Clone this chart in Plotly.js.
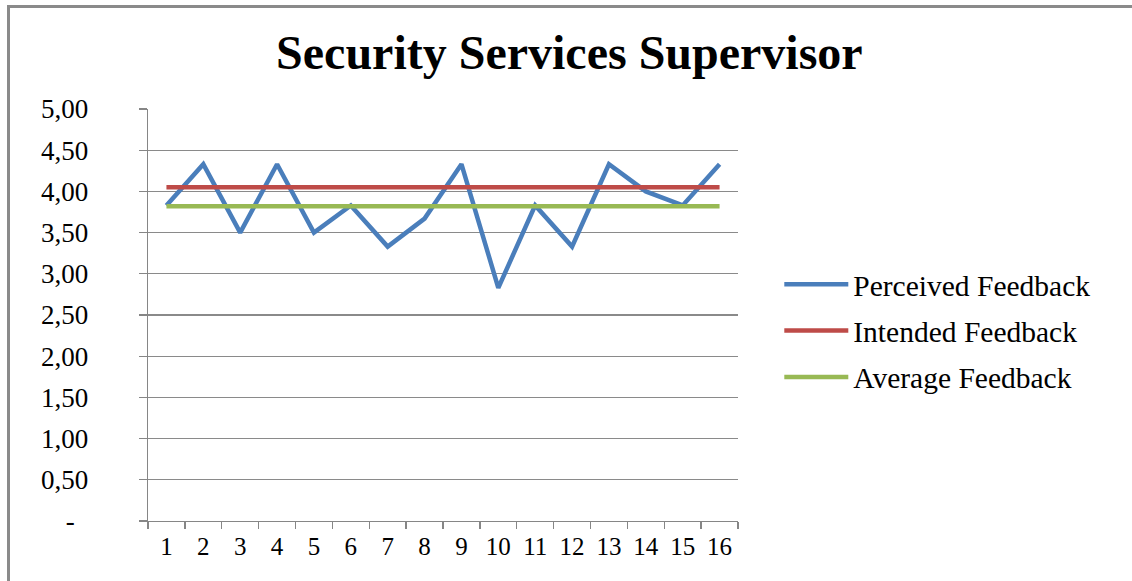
<!DOCTYPE html>
<html>
<head>
<meta charset="utf-8">
<script src="https://cdn.plot.ly/plotly-3.0.1.min.js"></script>
<style>
  html, body { margin: 0; padding: 0; background: #fff; }
  #wrap { position: relative; width: 1132px; height: 581px; overflow: hidden; }
  #chart { position: absolute; left: 0; top: 0; width: 1132px; height: 581px; }
  #frame { position: absolute; left: 7px; top: 5px; right: -10px; bottom: -10px;
           border-left: 3px solid #8a8a8a; border-top: 3px solid #8a8a8a; pointer-events: none; }
</style>
</head>
<body>
<div id="wrap">
  <div id="chart"></div>
  <div id="frame"></div>
</div>
<script>
const categories = ["1","2","3","4","5","6","7","8","9","10","11","12","13","14","15","16"];
const perceived = [3.83, 4.33, 3.50, 4.33, 3.50, 3.83, 3.33, 3.67, 4.33, 2.83, 3.83, 3.33, 4.33, 4.00, 3.83, 4.33];
const intendedValue = 4.05;
const averageValue = 3.82;
const intended = categories.map(() => intendedValue);
const average = categories.map(() => averageValue);
const yTickVals = [0, 0.5, 1, 1.5, 2, 2.5, 3, 3.5, 4, 4.5, 5];
const yTickText = ["-\u00a0\u00a0", "0,50", "1,00", "1,50", "2,00", "2,50", "3,00", "3,50", "4,00", "4,50", "5,00"];

const serif = "Liberation Serif, Times New Roman, serif";

const traces = [
  { x: categories, y: perceived, type: "scatter", mode: "lines", name: "Perceived Feedback",
    line: { color: "#4A7EBB", width: 4.5 }, legendgroup: "a" },
  { x: categories, y: intended, type: "scatter", mode: "lines", name: "Intended Feedback",
    line: { color: "#BE4B48", width: 4.5 }, legendgroup: "b" },
  { x: categories, y: average, type: "scatter", mode: "lines", name: "Average Feedback",
    line: { color: "#98B954", width: 4.5 }, legendgroup: "c" }
];

const layout = {
  width: 1132, height: 581,
  margin: { l: 148, r: 394, t: 109, b: 60 },
  paper_bgcolor: "#ffffff", plot_bgcolor: "#ffffff",
  font: { family: serif, color: "#000000", size: 24 },
  title: { text: "<b>Security Services Supervisor</b>", x: 0.503, xanchor: "center",
           y: 0.91, yanchor: "middle", font: { family: serif, size: 48, color: "#000" } },
  showlegend: true,
  legend: { x: 1.07, xanchor: "left", y: 0.461, yanchor: "middle",
            font: { family: serif, size: 29.5, color: "#000" },
            itemwidth: 64, tracegroupgap: 5, bgcolor: "rgba(0,0,0,0)" },
  xaxis: {
    type: "category", range: [-0.5, 15.5], tickson: "boundaries",
    ticks: "outside", ticklen: 7, tickcolor: "#868686", tickwidth: 1.3,
    showline: true, linecolor: "#868686", linewidth: 1.3,
    showgrid: false, zeroline: false, fixedrange: true,
    tickfont: { family: serif, size: 25, color: "#000" }, ticklabelstandoff: 3
  },
  yaxis: {
    range: [0, 5], tickvals: yTickVals, ticktext: yTickText,
    ticks: "outside", ticklen: 8, tickcolor: "#868686", tickwidth: 1.3,
    showline: true, linecolor: "#868686", linewidth: 1.3,
    showgrid: true, gridcolor: "#8a8a8a", gridwidth: 1.2, zeroline: false,
    tickfont: { family: serif, size: 27, color: "#000" }, ticklabelstandoff: 45
  }
};

Plotly.newPlot("chart", traces, layout, { staticPlot: true, displayModeBar: false });
</script>
</body>
</html>
